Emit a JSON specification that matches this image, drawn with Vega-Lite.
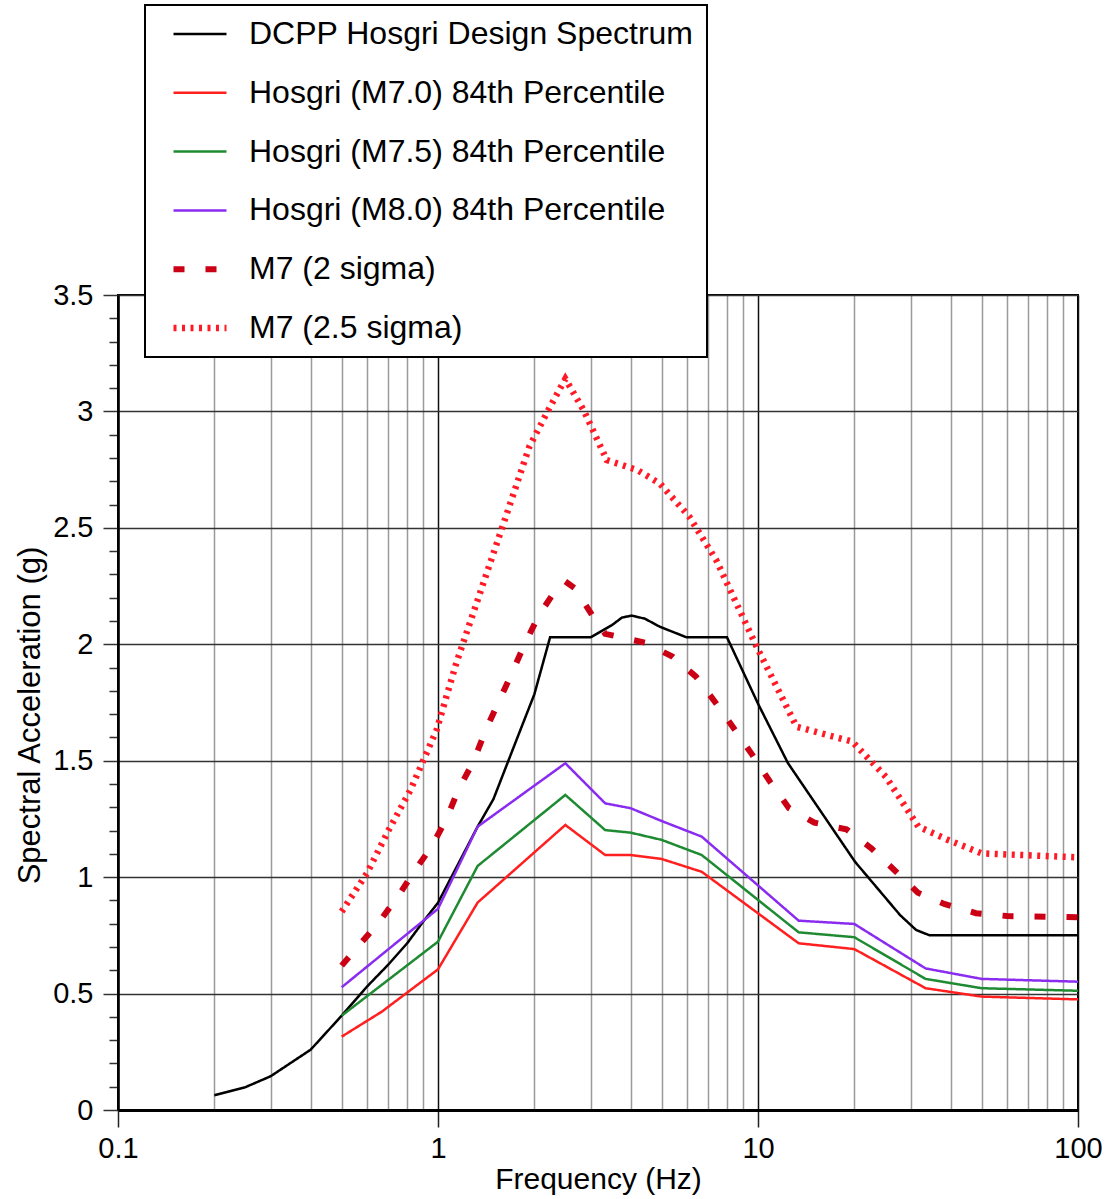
{
  "$schema": "https://vega.github.io/schema/vega-lite/v6.json",
  "width": 960,
  "height": 815,
  "autosize": {"type": "none"},
  "padding": {"left": 118, "top": 295, "right": 27, "bottom": 89},
  "background": "white",
  "config": {
    "font": "Liberation Sans",
    "view": {"stroke": "black", "strokeWidth": 2},
    "axis": {"labelFont": "Liberation Sans", "titleFont": "Liberation Sans", "labelColor": "black", "titleColor": "black", "titleFontWeight": "normal"}
  },
  "data": {"values": [
    {"series": "DCPP Hosgri Design Spectrum", "f": 0.2, "sa": 0.063},
    {"series": "DCPP Hosgri Design Spectrum", "f": 0.25, "sa": 0.098},
    {"series": "DCPP Hosgri Design Spectrum", "f": 0.3, "sa": 0.145},
    {"series": "DCPP Hosgri Design Spectrum", "f": 0.4, "sa": 0.259},
    {"series": "DCPP Hosgri Design Spectrum", "f": 0.5, "sa": 0.405},
    {"series": "DCPP Hosgri Design Spectrum", "f": 0.6, "sa": 0.53},
    {"series": "DCPP Hosgri Design Spectrum", "f": 0.7, "sa": 0.625},
    {"series": "DCPP Hosgri Design Spectrum", "f": 0.8, "sa": 0.715},
    {"series": "DCPP Hosgri Design Spectrum", "f": 0.9, "sa": 0.81},
    {"series": "DCPP Hosgri Design Spectrum", "f": 1.0, "sa": 0.89},
    {"series": "DCPP Hosgri Design Spectrum", "f": 1.33, "sa": 1.217},
    {"series": "DCPP Hosgri Design Spectrum", "f": 1.49, "sa": 1.335},
    {"series": "DCPP Hosgri Design Spectrum", "f": 1.76, "sa": 1.59},
    {"series": "DCPP Hosgri Design Spectrum", "f": 2.0, "sa": 1.785},
    {"series": "DCPP Hosgri Design Spectrum", "f": 2.24, "sa": 2.03},
    {"series": "DCPP Hosgri Design Spectrum", "f": 3.0, "sa": 2.03},
    {"series": "DCPP Hosgri Design Spectrum", "f": 3.5, "sa": 2.083},
    {"series": "DCPP Hosgri Design Spectrum", "f": 3.76, "sa": 2.115},
    {"series": "DCPP Hosgri Design Spectrum", "f": 4.03, "sa": 2.123},
    {"series": "DCPP Hosgri Design Spectrum", "f": 4.43, "sa": 2.11},
    {"series": "DCPP Hosgri Design Spectrum", "f": 4.94, "sa": 2.075},
    {"series": "DCPP Hosgri Design Spectrum", "f": 5.98, "sa": 2.03},
    {"series": "DCPP Hosgri Design Spectrum", "f": 8.0, "sa": 2.03},
    {"series": "DCPP Hosgri Design Spectrum", "f": 10.0, "sa": 1.745},
    {"series": "DCPP Hosgri Design Spectrum", "f": 12.4, "sa": 1.49},
    {"series": "DCPP Hosgri Design Spectrum", "f": 20.1, "sa": 1.066},
    {"series": "DCPP Hosgri Design Spectrum", "f": 27.8, "sa": 0.837},
    {"series": "DCPP Hosgri Design Spectrum", "f": 31.2, "sa": 0.773},
    {"series": "DCPP Hosgri Design Spectrum", "f": 34.4, "sa": 0.75},
    {"series": "DCPP Hosgri Design Spectrum", "f": 100, "sa": 0.75},

    {"series": "Hosgri (M7.0) 84th Percentile", "f": 0.5, "sa": 0.315},
    {"series": "Hosgri (M7.0) 84th Percentile", "f": 0.667, "sa": 0.422},
    {"series": "Hosgri (M7.0) 84th Percentile", "f": 1.0, "sa": 0.604},
    {"series": "Hosgri (M7.0) 84th Percentile", "f": 1.33, "sa": 0.891},
    {"series": "Hosgri (M7.0) 84th Percentile", "f": 2.5, "sa": 1.224},
    {"series": "Hosgri (M7.0) 84th Percentile", "f": 3.33, "sa": 1.095},
    {"series": "Hosgri (M7.0) 84th Percentile", "f": 4.0, "sa": 1.095},
    {"series": "Hosgri (M7.0) 84th Percentile", "f": 5.0, "sa": 1.078},
    {"series": "Hosgri (M7.0) 84th Percentile", "f": 6.67, "sa": 1.023},
    {"series": "Hosgri (M7.0) 84th Percentile", "f": 13.4, "sa": 0.716},
    {"series": "Hosgri (M7.0) 84th Percentile", "f": 20, "sa": 0.691},
    {"series": "Hosgri (M7.0) 84th Percentile", "f": 33.4, "sa": 0.523},
    {"series": "Hosgri (M7.0) 84th Percentile", "f": 50, "sa": 0.487},
    {"series": "Hosgri (M7.0) 84th Percentile", "f": 100, "sa": 0.475},

    {"series": "Hosgri (M7.5) 84th Percentile", "f": 0.5, "sa": 0.405},
    {"series": "Hosgri (M7.5) 84th Percentile", "f": 1.0, "sa": 0.723},
    {"series": "Hosgri (M7.5) 84th Percentile", "f": 1.33, "sa": 1.048},
    {"series": "Hosgri (M7.5) 84th Percentile", "f": 2.5, "sa": 1.353},
    {"series": "Hosgri (M7.5) 84th Percentile", "f": 3.33, "sa": 1.202},
    {"series": "Hosgri (M7.5) 84th Percentile", "f": 4.0, "sa": 1.191},
    {"series": "Hosgri (M7.5) 84th Percentile", "f": 5.0, "sa": 1.16},
    {"series": "Hosgri (M7.5) 84th Percentile", "f": 6.67, "sa": 1.095},
    {"series": "Hosgri (M7.5) 84th Percentile", "f": 13.4, "sa": 0.763},
    {"series": "Hosgri (M7.5) 84th Percentile", "f": 20, "sa": 0.742},
    {"series": "Hosgri (M7.5) 84th Percentile", "f": 33.4, "sa": 0.563},
    {"series": "Hosgri (M7.5) 84th Percentile", "f": 50, "sa": 0.523},
    {"series": "Hosgri (M7.5) 84th Percentile", "f": 100, "sa": 0.512},

    {"series": "Hosgri (M8.0) 84th Percentile", "f": 0.5, "sa": 0.527},
    {"series": "Hosgri (M8.0) 84th Percentile", "f": 1.0, "sa": 0.864},
    {"series": "Hosgri (M8.0) 84th Percentile", "f": 1.33, "sa": 1.217},
    {"series": "Hosgri (M8.0) 84th Percentile", "f": 2.5, "sa": 1.489},
    {"series": "Hosgri (M8.0) 84th Percentile", "f": 3.33, "sa": 1.317},
    {"series": "Hosgri (M8.0) 84th Percentile", "f": 4.0, "sa": 1.296},
    {"series": "Hosgri (M8.0) 84th Percentile", "f": 5.0, "sa": 1.241},
    {"series": "Hosgri (M8.0) 84th Percentile", "f": 6.67, "sa": 1.174},
    {"series": "Hosgri (M8.0) 84th Percentile", "f": 13.4, "sa": 0.813},
    {"series": "Hosgri (M8.0) 84th Percentile", "f": 20, "sa": 0.799},
    {"series": "Hosgri (M8.0) 84th Percentile", "f": 33.4, "sa": 0.608},
    {"series": "Hosgri (M8.0) 84th Percentile", "f": 50, "sa": 0.563},
    {"series": "Hosgri (M8.0) 84th Percentile", "f": 100, "sa": 0.551},

    {"series": "M7 (2 sigma)", "f": 0.5, "sa": 0.62},
    {"series": "M7 (2 sigma)", "f": 0.55, "sa": 0.687},
    {"series": "M7 (2 sigma)", "f": 0.643, "sa": 0.794},
    {"series": "M7 (2 sigma)", "f": 0.743, "sa": 0.909},
    {"series": "M7 (2 sigma)", "f": 0.837, "sa": 1.019},
    {"series": "M7 (2 sigma)", "f": 0.955, "sa": 1.131},
    {"series": "M7 (2 sigma)", "f": 1.065, "sa": 1.253},
    {"series": "M7 (2 sigma)", "f": 1.157, "sa": 1.374},
    {"series": "M7 (2 sigma)", "f": 1.29, "sa": 1.496},
    {"series": "M7 (2 sigma)", "f": 1.41, "sa": 1.632},
    {"series": "M7 (2 sigma)", "f": 1.54, "sa": 1.746},
    {"series": "M7 (2 sigma)", "f": 1.7, "sa": 1.875},
    {"series": "M7 (2 sigma)", "f": 1.87, "sa": 2.004},
    {"series": "M7 (2 sigma)", "f": 2.07, "sa": 2.126},
    {"series": "M7 (2 sigma)", "f": 2.35, "sa": 2.24},
    {"series": "M7 (2 sigma)", "f": 2.5, "sa": 2.27},
    {"series": "M7 (2 sigma)", "f": 2.68, "sa": 2.24},
    {"series": "M7 (2 sigma)", "f": 3.03, "sa": 2.126},
    {"series": "M7 (2 sigma)", "f": 3.33, "sa": 2.045},
    {"series": "M7 (2 sigma)", "f": 4.44, "sa": 2.007},
    {"series": "M7 (2 sigma)", "f": 5.4, "sa": 1.947},
    {"series": "M7 (2 sigma)", "f": 6.4, "sa": 1.861},
    {"series": "M7 (2 sigma)", "f": 7.4, "sa": 1.746},
    {"series": "M7 (2 sigma)", "f": 8.4, "sa": 1.639},
    {"series": "M7 (2 sigma)", "f": 9.6, "sa": 1.525},
    {"series": "M7 (2 sigma)", "f": 10.9, "sa": 1.41},
    {"series": "M7 (2 sigma)", "f": 12.5, "sa": 1.296},
    {"series": "M7 (2 sigma)", "f": 15.0, "sa": 1.234},
    {"series": "M7 (2 sigma)", "f": 18.9, "sa": 1.205},
    {"series": "M7 (2 sigma)", "f": 22.6, "sa": 1.124},
    {"series": "M7 (2 sigma)", "f": 26.5, "sa": 1.034},
    {"series": "M7 (2 sigma)", "f": 31.6, "sa": 0.933},
    {"series": "M7 (2 sigma)", "f": 38.2, "sa": 0.885},
    {"series": "M7 (2 sigma)", "f": 48, "sa": 0.845},
    {"series": "M7 (2 sigma)", "f": 60, "sa": 0.833},
    {"series": "M7 (2 sigma)", "f": 100, "sa": 0.828},

    {"series": "M7 (2.5 sigma)", "f": 0.5, "sa": 0.852},
    {"series": "M7 (2.5 sigma)", "f": 0.6, "sa": 1.017},
    {"series": "M7 (2.5 sigma)", "f": 0.7, "sa": 1.2},
    {"series": "M7 (2.5 sigma)", "f": 0.82, "sa": 1.374},
    {"series": "M7 (2.5 sigma)", "f": 0.99, "sa": 1.632},
    {"series": "M7 (2.5 sigma)", "f": 1.14, "sa": 1.918},
    {"series": "M7 (2.5 sigma)", "f": 1.59, "sa": 2.505},
    {"series": "M7 (2.5 sigma)", "f": 1.93, "sa": 2.849},
    {"series": "M7 (2.5 sigma)", "f": 2.24, "sa": 3.02},
    {"series": "M7 (2.5 sigma)", "f": 2.5, "sa": 3.14},
    {"series": "M7 (2.5 sigma)", "f": 2.85, "sa": 3.006},
    {"series": "M7 (2.5 sigma)", "f": 3.37, "sa": 2.791},
    {"series": "M7 (2.5 sigma)", "f": 4.2, "sa": 2.748},
    {"series": "M7 (2.5 sigma)", "f": 4.94, "sa": 2.69},
    {"series": "M7 (2.5 sigma)", "f": 6.1, "sa": 2.548},
    {"series": "M7 (2.5 sigma)", "f": 7.4, "sa": 2.362},
    {"series": "M7 (2.5 sigma)", "f": 9.9, "sa": 1.99},
    {"series": "M7 (2.5 sigma)", "f": 13.2, "sa": 1.646},
    {"series": "M7 (2.5 sigma)", "f": 19.7, "sa": 1.582},
    {"series": "M7 (2.5 sigma)", "f": 25.1, "sa": 1.431},
    {"series": "M7 (2.5 sigma)", "f": 31.7, "sa": 1.217},
    {"series": "M7 (2.5 sigma)", "f": 39.2, "sa": 1.16},
    {"series": "M7 (2.5 sigma)", "f": 50, "sa": 1.102},
    {"series": "M7 (2.5 sigma)", "f": 100, "sa": 1.085}
  ]},
  "mark": {"type": "line", "interpolate": "linear"},
  "encoding": {
    "x": {
      "field": "f", "type": "quantitative",
      "scale": {"type": "log", "domain": [0.1, 100], "nice": false},
      "axis": {
        "title": "Frequency (Hz)",
        "titleFontSize": 30,
        "titlePadding": 1,
        "values": [0.1,0.2,0.3,0.4,0.5,0.6,0.7,0.8,0.9,1,2,3,4,5,6,7,8,9,10,20,30,40,50,60,70,80,90,100],
        "format": "~g",
        "labelExpr": "abs(log(datum.value)/LN10 - round(log(datum.value)/LN10)) < 0.001 ? datum.label : ''",
        "labelFontSize": 29,
        "labelPadding": 7,
        "labelOverlap": false,
        "labelFlush": false,
        "grid": true,
        "gridColor": {"condition": {"test": "abs(log(datum.value)/LN10 - round(log(datum.value)/LN10)) < 0.001", "value": "#111111"}, "value": "#9a9a9a"},
        "gridWidth": 1.5,
        "tickSize": {"condition": {"test": "abs(log(datum.value)/LN10 - round(log(datum.value)/LN10)) < 0.001", "value": 17}, "value": 0},
        "tickColor": "#222222",
        "tickWidth": 1.5,
        "domainColor": "black",
        "domainWidth": 3
      }
    },
    "y": {
      "field": "sa", "type": "quantitative",
      "scale": {"domain": [0, 3.5], "nice": false},
      "axis": {
        "title": "Spectral Acceleration (g)",
        "titleFontSize": 31,
        "titlePadding": 6,
        "titleY": 420,
        "values": [0,0.1,0.2,0.3,0.4,0.5,0.6,0.7,0.8,0.9,1,1.1,1.2,1.3,1.4,1.5,1.6,1.7,1.8,1.9,2,2.1,2.2,2.3,2.4,2.5,2.6,2.7,2.8,2.9,3,3.1,3.2,3.3,3.4,3.5],
        "format": "~g",
        "labelExpr": "abs(datum.value*2 - round(datum.value*2)) < 0.001 ? datum.label : ''",
        "labelFontSize": 29,
        "labelPadding": 10,
        "labelOverlap": false,
        "labelFlush": false,
        "grid": true,
        "gridColor": "#333333",
        "gridWidth": 1.5,
        "gridOpacity": {"condition": {"test": "abs(datum.value*2 - round(datum.value*2)) < 0.001", "value": 1}, "value": 0},
        "tickSize": {"condition": {"test": "abs(datum.value*2 - round(datum.value*2)) < 0.001", "value": 15}, "value": 9},
        "tickColor": "#333333",
        "tickWidth": 1.5,
        "domainColor": "black",
        "domainWidth": 2.5
      }
    },
    "color": {
      "field": "series", "type": "nominal",
      "scale": {
        "domain": ["DCPP Hosgri Design Spectrum", "Hosgri (M7.0) 84th Percentile", "Hosgri (M7.5) 84th Percentile", "Hosgri (M8.0) 84th Percentile", "M7 (2 sigma)", "M7 (2.5 sigma)"],
        "range": ["#000000", "#ff1f1f", "#1e8a32", "#8a2cf0", "#cc0014", "#ff1a26"]
      },
      "legend": {
        "title": null,
        "orient": "none",
        "legendX": 27,
        "legendY": -290,
        "symbolType": "stroke",
        "symbolSize": 2809,
        "symbolStrokeWidth": 2.5,
        "symbolOffset": 26,
        "labelFontSize": 32,
        "labelFont": "Liberation Sans",
        "labelColor": "black",
        "labelOffset": 33,
        "labelLimit": 700,
        "rowPadding": 26.8,
        "padding": 13,
        "fillColor": "white",
        "strokeColor": "black",
        "encode": {
          "legend": {"update": {"strokeWidth": {"value": 2}}},
          "symbols": {"update": {"strokeWidth": {"signal": "datum.value === 'M7 (2 sigma)' ? 6 : datum.value === 'M7 (2.5 sigma)' ? 6.5 : 2.5"}}}
        }
      }
    },
    "strokeDash": {
      "field": "series", "type": "nominal",
      "scale": {
        "domain": ["DCPP Hosgri Design Spectrum", "Hosgri (M7.0) 84th Percentile", "Hosgri (M7.5) 84th Percentile", "Hosgri (M8.0) 84th Percentile", "M7 (2 sigma)", "M7 (2.5 sigma)"],
        "range": [[1, 0], [1, 0], [1, 0], [1, 0], [11, 21], [3, 5.5]]
      }
    },
    "strokeWidth": {
      "condition": [
        {"test": "datum.series === 'M7 (2 sigma)'", "value": 6},
        {"test": "datum.series === 'M7 (2.5 sigma)'", "value": 6.5}
      ],
      "value": 2.5
    }
  }
}
